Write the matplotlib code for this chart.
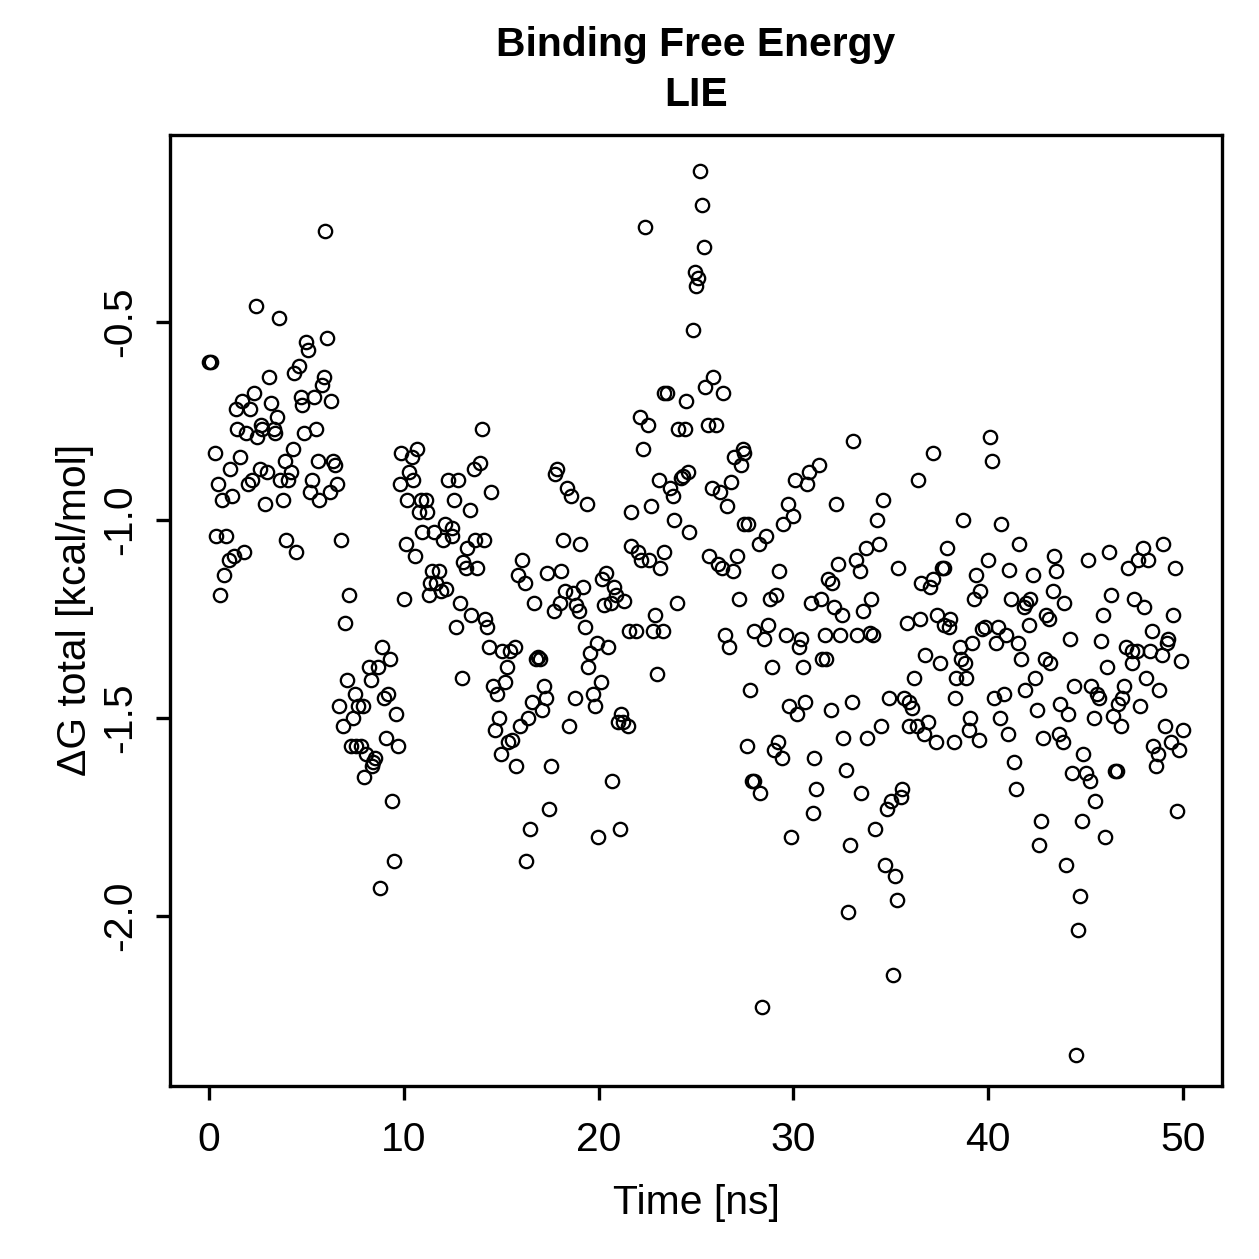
import matplotlib
matplotlib.use('Agg')
import matplotlib.pyplot as plt

plt.rcParams['font.family'] = ['Liberation Sans', 'DejaVu Sans']

# time [ns] and LIE binding free energy [kcal/mol]
time_ns = [
    0.0, 0.1, 0.29, 0.37, 0.48, 0.58, 0.67, 0.78, 0.89, 1.01, 1.09, 1.18, 1.27, 1.38, 1.45, 1.57,
    1.68, 1.78, 1.90, 2.00, 2.09, 2.20, 2.29, 2.39, 2.46, 2.60, 2.65, 2.70, 2.88, 2.99, 3.07, 3.18,
    3.35, 3.38, 3.48, 3.57, 3.65, 3.78, 3.88, 3.98, 4.08, 4.20, 4.29, 4.39, 4.47, 4.60, 4.70, 4.78,
    4.88, 4.98, 5.07, 5.17, 5.29, 5.39, 5.48, 5.58, 5.67, 5.79, 5.89, 5.96, 6.08, 6.20, 6.27, 6.37,
    6.47, 6.59, 6.70, 6.78, 6.88, 6.97, 7.11, 7.17, 7.27, 7.39, 7.48, 7.55, 7.65, 7.79, 7.89, 7.98,
    8.06, 8.20, 8.30, 8.35, 8.44, 8.52, 8.69, 8.80, 8.88, 8.98, 9.08, 9.17, 9.29, 9.38, 9.49, 9.62,
    9.68, 9.80, 9.85, 9.99, 10.09, 10.18, 10.26, 10.40, 10.49, 10.59, 10.67, 10.77, 10.88, 10.96,
    11.12, 11.20, 11.27, 11.36, 11.47, 11.53, 11.63, 11.80, 11.90, 12.02, 12.11, 12.19, 12.28, 12.45,
    12.48, 12.59, 12.67, 12.79, 12.91, 13.00, 13.05, 13.18, 13.27, 13.39, 13.47, 13.59, 13.68, 13.78,
    13.90, 13.99, 14.10, 14.19, 14.29, 14.38, 14.50, 14.58, 14.70, 14.79, 14.89, 14.97, 15.06, 15.18,
    15.30, 15.35, 15.47, 15.57, 15.69, 15.78, 15.87, 15.98, 16.09, 16.20, 16.29, 16.38, 16.48, 16.60,
    16.69, 16.80, 16.90, 16.97, 17.11, 17.20, 17.28, 17.37, 17.48, 17.57, 17.69, 17.78, 17.88, 18.00,
    18.08, 18.19, 18.25, 18.39, 18.48, 18.60, 18.71, 18.80, 18.85, 18.97, 19.07, 19.20, 19.28, 19.40,
    19.48, 19.57, 19.71, 19.79, 19.91, 19.99, 20.10, 20.18, 20.27, 20.39, 20.48, 20.65, 20.70, 20.78,
    20.90, 20.99, 21.11, 21.16, 21.24, 21.30, 21.50, 21.58, 21.67, 21.67, 21.93, 22.01, 22.10, 22.18,
    22.27, 22.40, 22.53, 22.61, 22.69, 22.78, 22.90, 22.99, 23.09, 23.17, 23.29, 23.36, 23.38, 23.51,
    23.68, 23.81, 23.89, 24.01, 24.06, 24.23, 24.32, 24.44, 24.49, 24.57, 24.66, 24.83, 24.95, 25.00,
    25.12, 25.20, 25.31, 25.41, 25.48, 25.60, 25.68, 25.80, 25.89, 26.02, 26.11, 26.23, 26.32, 26.40,
    26.50, 26.59, 26.71, 26.79, 26.88, 26.96, 27.09, 27.19, 27.31, 27.39, 27.44, 27.47, 27.60, 27.68,
    27.78, 27.87, 27.99, 27.99, 28.21, 28.29, 28.38, 28.50, 28.59, 28.70, 28.79, 28.88, 28.98, 29.10,
    29.19, 29.27, 29.39, 29.49, 29.60, 29.70, 29.78, 29.90, 30.00, 30.09, 30.17, 30.29, 30.41, 30.50,
    30.60, 30.69, 30.80, 30.89, 30.99, 31.06, 31.18, 31.30, 31.40, 31.49, 31.61, 31.66, 31.78, 31.92,
    32.00, 32.08, 32.19, 32.31, 32.39, 32.51, 32.57, 32.68, 32.79, 32.89, 32.99, 33.08, 33.20, 33.28,
    33.42, 33.49, 33.59, 33.71, 33.80, 33.91, 34.00, 34.10, 34.18, 34.27, 34.39, 34.48, 34.60, 34.70,
    34.78, 34.90, 34.99, 35.09, 35.19, 35.30, 35.38, 35.50, 35.59, 35.67, 35.81, 35.93, 35.93, 36.10,
    36.18, 36.32, 36.39, 36.49, 36.53, 36.70, 36.78, 36.90, 37.00, 37.14, 37.19, 37.30, 37.38, 37.50,
    37.64, 37.72, 37.72, 37.89, 37.98, 38.06, 38.23, 38.30, 38.37, 38.54, 38.58, 38.69, 38.83, 38.88,
    39.00, 39.09, 39.19, 39.29, 39.39, 39.51, 39.60, 39.69, 39.86, 39.99, 40.11, 40.20, 40.32, 40.40,
    40.51, 40.59, 40.68, 40.79, 40.93, 41.00, 41.09, 41.19, 41.31, 41.41, 41.51, 41.60, 41.70, 41.82,
    41.91, 41.96, 42.09, 42.16, 42.30, 42.38, 42.51, 42.59, 42.71, 42.81, 42.89, 42.98, 43.10, 43.19,
    43.30, 43.40, 43.49, 43.61, 43.70, 43.82, 43.90, 44.01, 44.12, 44.20, 44.30, 44.38, 44.50, 44.60,
    44.69, 44.81, 44.89, 45.01, 45.10, 45.20, 45.30, 45.41, 45.49, 45.58, 45.71, 45.80, 45.89, 46.00,
    46.09, 46.19, 46.30, 46.40, 46.50, 46.60, 46.68, 46.81, 46.86, 46.98, 47.08, 47.20, 47.37, 47.37,
    47.49, 47.63, 47.71, 47.80, 47.92, 48.00, 48.10, 48.22, 48.31, 48.40, 48.48, 48.62, 48.70, 48.79,
    48.91, 48.99, 49.08, 49.16, 49.25, 49.39, 49.50, 49.59, 49.68, 49.81, 49.90, 50.00,
]
dg_total = [
    -0.60, -0.60, -0.83, -1.04, -0.91, -1.19, -0.95, -1.14, -1.04, -1.10, -0.87, -0.94, -1.09, -0.72, -0.77, -0.84,
    -0.70, -1.08, -0.78, -0.91, -0.72, -0.90, -0.68, -0.46, -0.79, -0.87, -0.76, -0.77, -0.96, -0.88, -0.64, -0.705,
    -0.77, -0.78, -0.74, -0.49, -0.90, -0.95, -0.85, -1.05, -0.90, -0.88, -0.82, -0.63, -1.08, -0.61, -0.69, -0.71,
    -0.78, -0.55, -0.57, -0.93, -0.90, -0.69, -0.77, -0.85, -0.95, -0.66, -0.64, -0.27, -0.54, -0.93, -0.70, -0.85,
    -0.86, -0.91, -1.47, -1.05, -1.52, -1.26, -1.405, -1.19, -1.57, -1.50, -1.44, -1.57, -1.47, -1.57, -1.47, -1.65,
    -1.59, -1.37, -1.405, -1.62, -1.61, -1.60, -1.37, -1.93, -1.32, -1.45, -1.55, -1.44, -1.35, -1.71, -1.86, -1.49,
    -1.57, -0.91, -0.83, -1.20, -1.06, -0.95, -0.88, -0.84, -0.90, -1.09, -0.82, -0.98, -0.95, -1.03,
    -0.95, -0.98, -1.19, -1.16, -1.13, -1.03, -1.16, -1.13, -1.18, -1.05, -1.01, -1.175, -0.90, -1.04,
    -1.02, -0.95, -1.27, -0.90, -1.21, -1.40, -1.105, -1.12, -1.07, -0.975, -1.24, -0.87, -1.05, -1.12,
    -0.855, -0.77, -1.05, -1.25, -1.27, -1.32, -0.93, -1.42, -1.53, -1.44, -1.50, -1.59, -1.33, -1.41,
    -1.37, -1.56, -1.33, -1.555, -1.32, -1.62, -1.14, -1.52, -1.10, -1.16, -1.86, -1.50, -1.78, -1.46,
    -1.21, -1.35, -1.345, -1.35, -1.48, -1.42, -1.45, -1.135, -1.73, -1.62, -1.23, -0.885, -0.87, -1.21,
    -1.13, -1.05, -1.18, -0.92, -1.52, -0.94, -1.185, -1.45, -1.215, -1.23, -1.06, -1.17, -1.27, -0.96,
    -1.37, -1.335, -1.44, -1.47, -1.31, -1.80, -1.41, -1.15, -1.215, -1.135, -1.32, -1.21, -1.66, -1.17,
    -1.19, -1.51, -1.78, -1.49, -1.51, -1.205, -1.52, -1.28, -0.98, -1.065, -1.28, -1.08, -0.74, -1.10,
    -0.82, -0.26, -0.76, -1.10, -0.965, -1.28, -1.24, -1.39, -0.90, -1.12, -1.28, -0.68, -1.08, -0.68,
    -0.92, -0.94, -1.00, -1.21, -0.77, -0.895, -0.89, -0.77, -0.70, -0.88, -1.03, -0.52, -0.375, -0.41,
    -0.39, -0.12, -0.205, -0.31, -0.665, -0.76, -1.09, -0.92, -0.64, -0.76, -1.11, -0.93, -1.12, -0.68,
    -1.29, -0.965, -1.32, -0.905, -1.13, -0.84, -1.09, -1.20, -0.86, -0.82, -0.83, -1.01, -1.57, -1.01,
    -1.43, -1.66, -1.66, -1.28, -1.06, -1.69, -2.23, -1.30, -1.04, -1.265, -1.20, -1.37, -1.58, -1.19,
    -1.56, -1.13, -1.60, -1.01, -1.29, -0.96, -1.47, -1.80, -0.99, -0.90, -1.49, -1.32, -1.30, -1.37,
    -1.46, -0.91, -0.88, -1.21, -1.74, -1.60, -1.68, -0.86, -1.20, -1.35, -1.29, -1.35, -1.15, -1.48,
    -1.16, -1.22, -0.96, -1.11, -1.29, -1.24, -1.55, -1.63, -1.99, -1.82, -1.46, -0.80, -1.10, -1.29,
    -1.13, -1.69, -1.23, -1.07, -1.55, -1.285, -1.20, -1.29, -1.78, -1.00, -1.06, -1.52, -0.95, -1.87,
    -1.73, -1.45, -1.71, -2.15, -1.90, -1.96, -1.12, -1.70, -1.68, -1.45, -1.26, -1.46, -1.52, -1.475,
    -1.40, -1.52, -0.90, -1.25, -1.16, -1.54, -1.34, -1.51, -1.17, -1.15, -0.83, -1.56, -1.24, -1.36,
    -1.12, -1.12, -1.265, -1.07, -1.27, -1.25, -1.56, -1.45, -1.40, -1.32, -1.35, -1.00, -1.36, -1.40,
    -1.53, -1.50, -1.31, -1.20, -1.14, -1.555, -1.18, -1.275, -1.27, -1.10, -0.79, -0.85, -1.45, -1.31,
    -1.27, -1.50, -1.01, -1.44, -1.29, -1.54, -1.125, -1.20, -1.61, -1.68, -1.31, -1.06, -1.35, -1.22,
    -1.43, -1.21, -1.265, -1.20, -1.14, -1.40, -1.48, -1.82, -1.76, -1.55, -1.35, -1.24, -1.25, -1.36,
    -1.18, -1.09, -1.13, -1.54, -1.465, -1.56, -1.21, -1.87, -1.49, -1.30, -1.64, -1.42, -2.35, -2.035,
    -1.95, -1.76, -1.59, -1.64, -1.10, -1.66, -1.42, -1.50, -1.71, -1.44, -1.45, -1.305, -1.24, -1.80,
    -1.37, -1.08, -1.19, -1.495, -1.634, -1.634, -1.465, -1.52, -1.45, -1.42, -1.32, -1.12, -1.33, -1.36,
    -1.20, -1.33, -1.10, -1.47, -1.07, -1.22, -1.40, -1.10, -1.33, -1.28, -1.57, -1.62, -1.59, -1.43,
    -1.34, -1.06, -1.52, -1.31, -1.30, -1.56, -1.24, -1.12, -1.735, -1.58, -1.355, -1.53,
]

x_ticks = [0, 10, 20, 30, 40, 50]
y_ticks = [-2.0, -1.5, -1.0, -0.5]

fig = plt.figure(figsize=(1259 / 300, 1259 / 300), dpi=300)
ax = fig.add_axes([170 / 1259, 1 - 1086 / 1259, 1052 / 1259, 951 / 1259])

ax.plot(time_ns, dg_total, 'o', ls='none', ms=3.2, mfc='none', mec='black', mew=0.55)

ax.set_xlim(-2, 52)
ax.set_ylim(-2.429, -0.028)
ax.set_xticks(x_ticks)
ax.set_xticklabels([str(t) for t in x_ticks])
ax.set_yticks(y_ticks)
ax.set_yticklabels(['%.1f' % v for v in y_ticks], rotation=90, va='center')

for s in ax.spines.values():
    s.set_linewidth(0.8)
ax.tick_params(direction='out', length=3.4, width=0.8, labelsize=9.8)
ax.tick_params(axis='x', pad=5.0)
ax.tick_params(axis='y', pad=4.0)

fig.text(696 / 1259, 1 - 45 / 1259, 'Binding Free Energy', ha='center', va='center',
         fontsize=9.8, fontweight='bold')
fig.text(696 / 1259, 1 - 95 / 1259, 'LIE', ha='center', va='center',
         fontsize=9.8, fontweight='bold')
fig.text(696 / 1259, 1 - 1203 / 1259, 'Time [ns]', ha='center', va='center', fontsize=9.8)
fig.text(75 / 1259, 1 - 610 / 1259, '\u0394G total [kcal/mol]', ha='center', va='center',
         rotation=90, fontsize=9.8)

fig.savefig('out.png', dpi=300)
